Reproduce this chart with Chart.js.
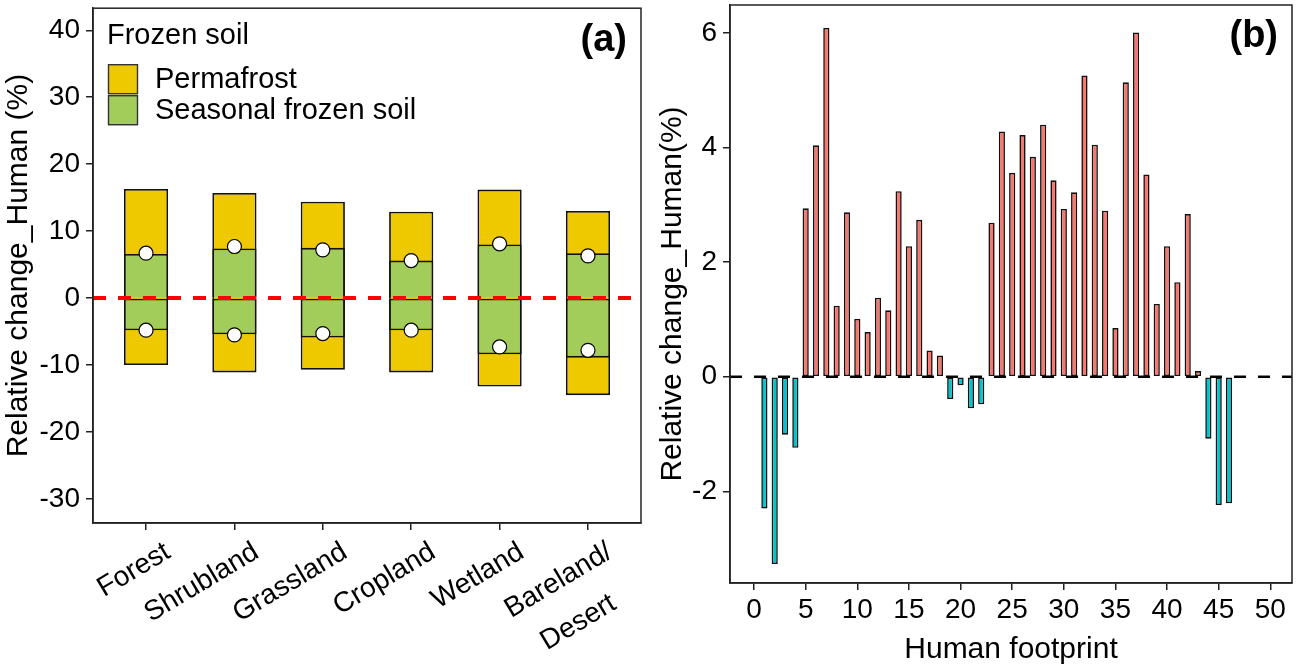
<!DOCTYPE html>
<html><head><meta charset="utf-8">
<script src="https://cdn.jsdelivr.net/npm/chart.js@4/dist/chart.umd.min.js"></script>
<style>
html,body{margin:0;padding:0;background:#fff;}
#wrap{position:relative;width:1297px;height:668px;overflow:hidden;}
#ca{position:absolute;left:0;top:0;width:650px;height:668px;}
#cb{position:absolute;left:650px;top:0;width:647px;height:668px;}
</style></head><body>
<div id="wrap">
  <div id="ca"><canvas id="a" width="650" height="668"></canvas></div>
  <div id="cb"><canvas id="b" width="647" height="668"></canvas></div>
</div>
<script>
// ---------- Panel (a) data ----------
const landTypes = ['Forest', 'Shrubland', 'Grassland', 'Cropland', 'Wetland', ['Bareland/', 'Desert\u00a0\u00a0\u00a0']];
const permafrostUpper = [16.3, 15.7, 14.4, 12.9, 16.2, 13.0];
const seasonalUpper   = [6.6, 7.4, 7.5, 5.6, 8.0, 6.7];
const seasonalLower   = [-4.8, -5.4, -5.9, -4.8, -8.4, -8.9];
const permafrostLower = [-10.0, -11.1, -10.7, -11.1, -13.2, -14.5];
const pointUpper      = [6.7, 7.7, 7.2, 5.6, 8.1, 6.3];
const pointLower      = [-4.8, -5.5, -5.3, -4.8, -7.3, -7.8];
const yTicksA = [-30, -20, -10, 0, 10, 20, 30, 40];
const xMinA = 0.4, xMaxA = 6.6, yMinA = -33.6, yMaxA = 43.3;
const legendTitleA = 'Frozen soil';
const legendLabelsA = ['Permafrost', 'Seasonal frozen soil'];

// ---------- Panel (b) data ----------
const footprint = [1,2,3,4,5,6,7,8,9,10,11,12,13,14,15,16,17,18,19,20,21,22,23,24,25,26,27,28,29,30,31,32,33,34,35,36,37,38,39,40,41,42,43,44,45,46];
const relChange = [-2.30,-3.27,-1.01,-1.24,2.94,4.04,6.09,1.24,2.87,1.01,0.78,1.38,1.16,3.24,2.28,2.74,0.46,0.37,-0.39,-0.15,-0.55,-0.48,2.69,4.28,3.56,4.22,3.84,4.40,3.43,2.93,3.22,5.26,4.05,2.90,0.85,5.14,6.01,3.53,1.27,2.28,1.65,2.84,0.10,-1.08,-2.24,-2.21];
const xTicksB = [0, 5, 10, 15, 20, 25, 30, 35, 40, 45, 50];
const yTicksB = [-2, 0, 2, 4, 6];
const xMinB = -2.33, xMaxB = 52.1, yMinB = -3.6, yMaxB = 6.49;

// ---------- styles ----------
const FONT = "'Liberation Sans', Arial, sans-serif";
const YELLOW = '#EEC900', GREEN = '#A2CD5A', POS = '#F8766D', NEG = '#00C5CD';
const EDGE = '#111';

const frameBox = {
  id: 'frameBox',
  afterDraw(chart) {
    const {ctx, chartArea: a} = chart;
    ctx.save();
    ctx.strokeStyle = '#222';
    ctx.lineWidth = 1.5;
    ctx.strokeRect(a.left, a.top, a.right - a.left, a.bottom - a.top);
    ctx.restore();
  }
};

function panelLabel(text) {
  return {
    id: 'panelLabel' + text,
    afterDraw(chart) {
      const {ctx, chartArea: a} = chart;
      ctx.save();
      ctx.font = 'bold 38px ' + FONT;
      ctx.fillStyle = '#000';
      ctx.textAlign = 'right';
      ctx.textBaseline = 'middle';
      ctx.fillText(text, a.right - 14, a.top + 32);
      ctx.restore();
    }
  };
}

const legendA = {
  id: 'legendA',
  afterDraw(chart) {
    const {ctx, chartArea: a} = chart;
    ctx.save();
    ctx.fillStyle = '#000';
    ctx.textBaseline = 'middle';
    ctx.textAlign = 'left';
    ctx.font = '29px ' + FONT;
    ctx.fillText(legendTitleA, a.left + 14, a.top + 28);
    const cols = [YELLOW, GREEN];
    legendLabelsA.forEach((lab, i) => {
      const y = a.top + 56 + i * 31;
      ctx.fillStyle = cols[i];
      ctx.fillRect(a.left + 15, y, 30, 30);
      ctx.strokeStyle = '#333';
      ctx.lineWidth = 1.4;
      ctx.strokeRect(a.left + 15.5, y + 0.5, 29, 29);
      ctx.fillStyle = '#000';
      ctx.fillText(lab, a.left + 62, y + 16);
    });
    ctx.restore();
  }
};

function axisCommon() {
  return {
    offset: false,
    grid: {display: true, offset: false, drawOnChartArea: false, drawTicks: true, tickLength: 7, color: '#222', lineWidth: 1.5},
    border: {display: true, color: '#222', width: 1.5}
  };
}
function noPad(s) { s.paddingTop = 0; s.paddingBottom = 0; s.paddingLeft = 0; s.paddingRight = 0; }

// ---------- Panel (a) chart ----------
const idx = landTypes.map((_, i) => i + 1);
const BW = 1.8;
const barBase = {type: 'bar', grouped: false, barPercentage: 0.5, categoryPercentage: 1,
  borderColor: EDGE, borderWidth: BW, borderSkipped: false};

new Chart(document.getElementById('a'), {
  type: 'bar',
  data: {
    datasets: [
      Object.assign({}, barBase, {label: 'Permafrost', backgroundColor: YELLOW, order: 4,
        data: idx.map((x, i) => ({x, y: [permafrostLower[i], permafrostUpper[i]]}))}),
      Object.assign({}, barBase, {label: 'Seasonal -', backgroundColor: GREEN, order: 3,
        data: idx.map((x, i) => ({x, y: [seasonalLower[i], 0]}))}),
      Object.assign({}, barBase, {label: 'Seasonal +', backgroundColor: GREEN, order: 3,
        borderWidth: {top: BW, left: BW, right: BW, bottom: 0},
        data: idx.map((x, i) => ({x, y: [0, seasonalUpper[i]]}))}),
      {type: 'line', label: 'zero', data: [{x: xMinA, y: 0}, {x: xMaxA, y: 0}],
        borderColor: '#FF0000', borderWidth: 4, borderDash: [13, 12], pointRadius: 0, order: 2},
      {type: 'scatter', label: 'pts', data: idx.flatMap((x, i) => [{x, y: pointUpper[i]}, {x, y: pointLower[i]}]),
        backgroundColor: '#fff', borderColor: '#000', borderWidth: 1.2, pointRadius: 7, order: 1}
    ]
  },
  options: {
    responsive: false, animation: false, devicePixelRatio: 1,
    layout: {padding: {top: 5, right: 9, left: 0, bottom: 0}},
    plugins: {legend: {display: false}, tooltip: {enabled: false}},
    scales: {
      x: Object.assign(axisCommon(), {
        type: 'linear', min: xMinA, max: xMaxA,
        afterBuildTicks: s => { s.ticks = idx.map(v => ({value: v})); },
        afterFit: s => { s.height = 668 - 523; noPad(s); },
        ticks: {callback: v => landTypes[v - 1], minRotation: 31, maxRotation: 31, autoSkip: false,
          font: {family: FONT, size: 28, lineHeight: 1.65}, color: '#000', padding: 0, labelOffset: 22}
      }),
      y: Object.assign(axisCommon(), {
        type: 'linear', min: yMinA, max: yMaxA,
        afterBuildTicks: s => { s.ticks = yTicksA.map(v => ({value: v})); },
        afterFit: s => { s.width = 93; noPad(s); },
        ticks: {font: {family: FONT, size: 28}, color: '#000', padding: 6, autoSkip: false},
        title: {display: true, text: 'Relative change_Human (%)', color: '#000',
          font: {family: FONT, size: 30}, padding: {top: 1, bottom: 0}}
      })
    }
  },
  plugins: [frameBox, legendA, panelLabel('(a)')]
});

// ---------- Panel (b) chart ----------
new Chart(document.getElementById('b'), {
  type: 'bar',
  data: {
    datasets: [
      {type: 'bar', label: 'Relative change', data: footprint.map((x, i) => ({x, y: relChange[i]})),
        backgroundColor: relChange.map(v => v >= 0 ? POS : NEG), borderColor: EDGE, borderWidth: 1.6,
        borderSkipped: false, barPercentage: 0.6, categoryPercentage: 1, order: 1},
      {type: 'line', label: 'zero', data: [{x: xMinB, y: 0}, {x: xMaxB, y: 0}],
        borderColor: '#000', borderWidth: 2.5, borderDash: [12, 12], pointRadius: 0, order: 2}
    ]
  },
  options: {
    responsive: false, animation: false, devicePixelRatio: 1,
    layout: {padding: {top: 5, right: 5, left: 0, bottom: 0}},
    plugins: {legend: {display: false}, tooltip: {enabled: false}},
    scales: {
      x: Object.assign(axisCommon(), {
        type: 'linear', min: xMinB, max: xMaxB,
        afterBuildTicks: s => { s.ticks = xTicksB.map(v => ({value: v})); },
        afterFit: s => { s.height = 668 - 583; noPad(s); },
        ticks: {font: {family: FONT, size: 28}, color: '#000', padding: 3, maxRotation: 0, minRotation: 0, autoSkip: false},
        title: {display: true, text: 'Human footprint', color: '#000',
          font: {family: FONT, size: 30}, padding: {top: 0, bottom: 0}}
      }),
      y: Object.assign(axisCommon(), {
        type: 'linear', min: yMinB, max: yMaxB,
        afterBuildTicks: s => { s.ticks = yTicksB.map(v => ({value: v})); },
        afterFit: s => { s.width = 80; noPad(s); },
        ticks: {font: {family: FONT, size: 28}, color: '#000', padding: 6, autoSkip: false},
        title: {display: true, text: 'Relative change_Human(%)', color: '#000',
          font: {family: FONT, size: 30}, padding: {top: 5, bottom: 0}}
      })
    }
  },
  plugins: [frameBox, panelLabel('(b)')]
});
</script>
</body></html>
